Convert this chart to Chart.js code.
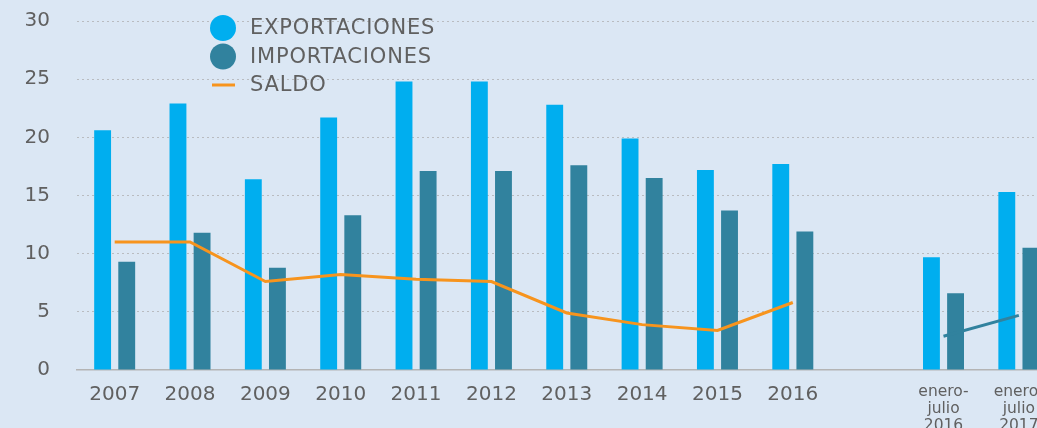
<!DOCTYPE html>
<html>
<head>
<meta charset="utf-8">
<script src="https://cdn.jsdelivr.net/npm/chart.js@4.4.0/dist/chart.umd.min.js"></script>
<style>
  html, body { margin: 0; padding: 0; background: #dbe7f4; overflow: hidden; }
  #wrap { width: 1057px; height: 428px; }
</style>
</head>
<body>
<div id="wrap"><canvas id="chart" width="1057" height="428"></canvas></div>
<script>
// Datos (miles de millones)
const categories = ['2007', '2008', '2009', '2010', '2011', '2012', '2013', '2014', '2015', '2016', '',
  ['enero-', 'julio', '2016'], ['enero-', 'julio', '2017']];
const exportaciones = [20.6, 22.9, 16.4, 21.7, 24.8, 24.8, 22.8, 19.9, 17.2, 17.7, null, 9.7, 15.3];
const importaciones = [9.3, 11.8, 8.8, 13.3, 17.1, 17.1, 17.6, 16.5, 13.7, 11.9, null, 6.6, 10.5];
const saldo = [11.0, 11.0, 7.6, 8.2, 7.8, 7.6, 4.9, 3.9, 3.4, 5.8, null, null, null];
const saldoEneroJulio = [null, null, null, null, null, null, null, null, null, null, null, 2.9, 4.7];
const yTicks = [0, 5, 10, 15, 20, 25, 30];

const azul = '#00aeef';
const verdeAzul = '#31829e';
const naranja = '#f7941d';
const gris = '#606060';
const fuente = 'DejaVu Sans';

// leyenda dibujada a mano (circulos + linea)
const legendPlugin = {
  id: 'leyenda',
  afterDraw(chart) {
    const ctx = chart.ctx;
    const items = [0, 1, 2].map(i => chart.data.datasets[i]);
    ctx.save();
    ctx.font = '400 21px "' + fuente + '"';
    ctx.letterSpacing = '0.8px';
    ctx.textBaseline = 'middle';
    items.forEach((ds, i) => {
      const y = 28 + i * 28.5;
      if (ds.type === 'line') {
        ctx.strokeStyle = ds.borderColor;
        ctx.lineWidth = 3;
        ctx.beginPath();
        ctx.moveTo(212, y);
        ctx.lineTo(235, y);
        ctx.stroke();
      } else {
        ctx.fillStyle = ds.backgroundColor;
        ctx.beginPath();
        ctx.arc(223, y, 13, 0, Math.PI * 2);
        ctx.fill();
      }
      ctx.fillStyle = gris;
      ctx.fillText(ds.label, 250, y + 1);
    });
    ctx.restore();
  }
};

const ctx = document.getElementById('chart').getContext('2d');
const chart = new Chart(ctx, {
  type: 'bar',
  data: {
    labels: categories,
    datasets: [
      {
        label: 'EXPORTACIONES',
        data: exportaciones,
        backgroundColor: azul,
        order: 2,
        categoryPercentage: 0.64,
        barPercentage: 0.7
      },
      {
        label: 'IMPORTACIONES',
        data: importaciones,
        backgroundColor: verdeAzul,
        order: 2,
        categoryPercentage: 0.64,
        barPercentage: 0.7
      },
      {
        type: 'line',
        label: 'SALDO',
        data: saldo,
        borderColor: naranja,
        borderWidth: 3,
        pointRadius: 0,
        tension: 0,
        order: 0
      },
      {
        type: 'line',
        label: 'SALDO enero-julio',
        data: saldoEneroJulio,
        borderColor: verdeAzul,
        borderWidth: 3,
        pointRadius: 0,
        tension: 0,
        order: 0
      }
    ]
  },
  options: {
    responsive: false,
    animation: false,
    layout: { padding: { top: 21, right: 0, left: 0, bottom: 0 } },
    plugins: {
      legend: { display: false },
      tooltip: { enabled: false }
    },
    scales: {
      x: {
        grid: { display: false, drawTicks: false },
        border: { color: '#b4b4b4', width: 1.5 },
        ticks: {
          color: gris,
          padding: 13,
          maxRotation: 0,
          autoSkip: false,
          font: c => c.index >= 11
            ? { family: fuente, size: 15.5, lineHeight: 1.1 }
            : { family: fuente, size: 20 }
        },
        afterFit: s => { s.height = 58; }
      },
      y: {
        min: 0,
        max: 30,
        afterBuildTicks: s => { s.ticks = yTicks.map(v => ({ value: v })); },
        grid: {
          color: c => c.tick.value === 0 ? 'rgba(0,0,0,0)' : '#b9bcc0',
          drawTicks: true,
          tickLength: 27,
          tickColor: 'rgba(0,0,0,0)',
          lineWidth: 1
        },
        border: { display: false, dash: [2, 3] },
        ticks: {
          color: gris,
          padding: 0,
          font: { family: fuente, size: 20 }
        },
        afterFit: s => { s.width = 77; }
      }
    }
  },
  plugins: [legendPlugin]
});
</script>
</body>
</html>
